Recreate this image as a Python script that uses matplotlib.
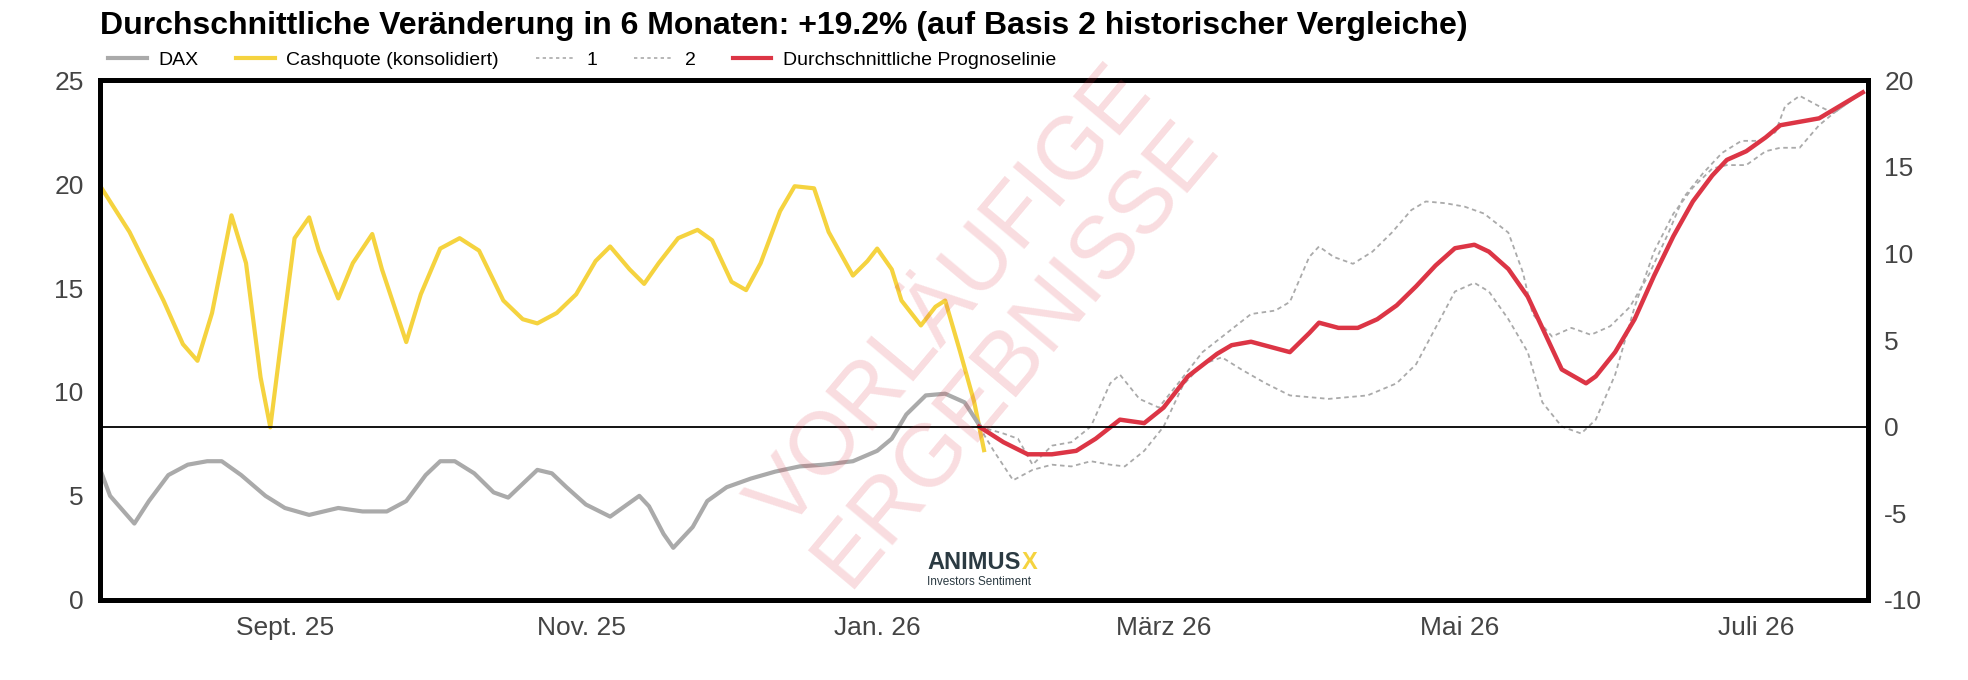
import matplotlib
matplotlib.use("Agg")
import matplotlib.pyplot as plt
import numpy as np
import datetime as dt

plt.rcParams['font.family'] = ['Liberation Sans', 'DejaVu Sans']
plt.rcParams['axes.unicode_minus'] = False

start = dt.date(2025, 7, 25)
end = dt.date(2026, 7, 24)

# Cashquote (linke Achse)
cash_days = [0, 6.5, 13, 17, 20, 23, 27, 30, 33, 35, 37, 40, 43, 45, 49, 52, 56, 58, 63, 66,
             70, 74, 78, 83, 87, 90, 94, 98, 102, 105, 109, 112, 115, 119, 123, 126, 130, 133,
             136, 140, 143, 147, 150, 155, 158, 160, 163, 165, 169, 172, 174, 177, 180, 182]
cash_vals = [19.9, 17.7, 14.4, 12.3, 11.5, 13.8, 18.5, 16.2, 10.7, 8.3, 12.0, 17.4, 18.4, 16.8,
             14.5, 16.2, 17.6, 15.9, 12.4, 14.7, 16.9, 17.4, 16.8, 14.4, 13.5, 13.3, 13.8, 14.7,
             16.3, 17.0, 15.9, 15.2, 16.2, 17.4, 17.8, 17.3, 15.3, 14.9, 16.2, 18.7, 19.9, 19.8,
             17.7, 15.6, 16.3, 16.9, 15.9, 14.4, 13.2, 14.1, 14.4, 12.0, 9.5, 7.2]

# DAX (rechte Achse)
dax_days = [0, 2.6, 7, 10.3, 14.2, 18, 22, 25.8, 29.7, 34.9, 38.8, 43.4, 49.1, 54.3, 59.4, 63.3,
            67.2, 70.3, 73.6, 77.5, 81.4, 84, 87.3, 90.4, 93, 96.9, 100.8, 105.4, 108.5, 111.1,
            113.7, 116.3, 118.9, 122, 125.3, 129.2, 134.4, 139.5, 144.7, 149.9, 155, 160.2,
            163.3, 166.7, 170.5, 174.4, 178.3, 181.7]
dax_vals = [-2.5, -4.0, -5.6, -4.3, -2.8, -2.2, -2.0, -2.0, -2.8, -4.0, -4.7, -5.1, -4.7, -4.9,
            -4.9, -4.3, -2.8, -2.0, -2.0, -2.7, -3.8, -4.1, -3.3, -2.5, -2.7, -3.5, -4.5, -5.2,
            -4.6, -4.0, -4.6, -6.2, -7.0, -5.8, -4.3, -3.5, -3.0, -2.6, -2.3, -2.2, -2.0, -1.4,
            -0.7, 0.7, 1.8, 1.9, 1.4, 0.1]

# Durchschnittliche Prognoselinie
avg_days = [181.7, 186, 191.2, 196.4, 201.6, 205.4, 210.6, 215.8, 219.6, 224.8, 230, 233.9,
            237.7, 241.6, 245.5, 249.4, 251.9, 255.8, 259.7, 263.6, 267.4, 271.3, 275.2, 279.1,
            283, 286.8, 290.7, 294.6, 298.4, 301.8, 306.2, 308.8, 312.7, 316.5, 320.4, 324.3,
            328.2, 332, 335.9, 339.8, 343.7, 346.3, 350.1, 354, 357.9, 363.8]
avg_vals = [0, -0.9, -1.6, -1.6, -1.4, -0.7, 0.4, 0.2, 1.1, 2.9, 4.2, 4.7, 4.9, 4.6, 4.3, 5.4,
            6.0, 5.7, 5.7, 6.2, 7.0, 8.1, 9.3, 10.3, 10.5, 10.1, 9.1, 7.5, 5.1, 3.3, 2.5, 2.9,
            4.3, 6.2, 8.7, 11.0, 13.0, 14.5, 15.4, 15.9, 16.7, 17.4, 17.6, 17.8, 18.3, 19.3]

# Vergleich 1
c1_days = [181.7, 186, 189.1, 192.5, 196.4, 200.3, 204.1, 208, 210.6, 214.5, 218.3, 222.2,
           227.4, 232.6, 237.7, 242.9, 245.5, 249.4, 251.9, 254.5, 258.4, 262.3, 266.1, 270,
           273.9, 277.8, 281.7, 285.5, 290.7, 293.3, 295.9, 299.7, 303.6, 307.5, 311.4, 315.2,
           319.1, 323, 326.9, 330.7, 334.6, 338.5, 342.4, 345, 347.6, 350.1, 354, 357.9, 363.8]
c1_vals = [0, -0.4, -0.7, -2.2, -1.1, -0.9, 0, 2.5, 3.0, 1.6, 1.1, 2.5, 4.3, 5.4, 6.5, 6.7, 7.2,
           9.8, 10.4, 9.8, 9.4, 10.1, 11.2, 12.5, 13.0, 12.9, 12.7, 12.3, 11.2, 8.9, 6.5, 5.2,
           5.7, 5.3, 5.8, 6.9, 8.8, 11.2, 13.2, 14.6, 15.8, 16.5, 16.5, 17.0, 18.5, 19.1, 18.5,
           18.1, 19.3]

# Vergleich 2
c2_days = [181.7, 184.8, 188.6, 192.5, 196.4, 200.3, 204.1, 208, 211.9, 215.8, 219.6, 223.5,
           227.4, 231.3, 235.1, 240.3, 245.5, 253.2, 261, 267.4, 271.3, 275.2, 279.1, 283,
           286.8, 290.7, 294.1, 297.7, 301.8, 305.4, 308.8, 312.7, 316.5, 320.4, 324.3, 328.2,
           332, 335.9, 339.8, 343.7, 346.3, 350.1, 354, 357.9, 363.8]
c2_vals = [0, -1.4, -3.1, -2.5, -2.2, -2.3, -2.0, -2.2, -2.3, -1.4, 0, 2.4, 3.6, 4.0, 3.3, 2.5,
           1.8, 1.6, 1.8, 2.5, 3.6, 5.7, 7.8, 8.3, 7.8, 6.2, 4.3, 1.4, 0, -0.4, 0.4, 3.0, 6.9,
           10.1, 12.3, 13.8, 14.9, 15.1, 15.1, 15.9, 16.1, 16.1, 17.4, 18.1, 19.3]


def to_dates(days):
    return [start + dt.timedelta(days=d) for d in days]


fig = plt.figure(figsize=(19.68, 6.8), dpi=100)
ax = fig.add_axes([0.051, 0.118, 0.898, 0.764])
ax2 = ax.twinx()

dash = (0, (2.5, 2))
ax.plot(to_dates(cash_days), cash_vals, color="#f5d33f", lw=3, solid_joinstyle="round")
ax2.plot(to_dates(dax_days), dax_vals, color="#aaaaaa", lw=3, solid_joinstyle="round")
ax2.plot(to_dates(c1_days), c1_vals, color="#aaaaaa", lw=1.3, ls=dash)
ax2.plot(to_dates(c2_days), c2_vals, color="#aaaaaa", lw=1.3, ls=dash)
ax2.plot(to_dates(avg_days), avg_vals, color="#dc3545", lw=3.2, solid_joinstyle="round")
ax2.axhline(0, color="black", lw=1.3)

ax.set_ylim(0, 25)
ax2.set_ylim(-10, 20)
ax.set_yticks(range(0, 26, 5))
ax2.set_yticks(range(-10, 21, 5))
ax.set_xlim(start, end)
ticks = [dt.date(2025, 9, 1), dt.date(2025, 11, 1), dt.date(2026, 1, 1),
         dt.date(2026, 3, 1), dt.date(2026, 5, 1), dt.date(2026, 7, 1)]
tick_labels = ["Sept. 25", "Nov. 25", "Jan. 26", "März 26", "Mai 26", "Juli 26"]
ax.set_xticks(ticks)
ax.set_xticklabels(tick_labels)

for a in (ax, ax2):
    a.tick_params(length=0, labelsize=19, colors="#444444", pad=12)
    for s in a.spines.values():
        s.set_linewidth(3.5)
        s.set_color("black")

fig.text(0.5, 0.52, "VORLÄUFIGE\nERGEBNISSE", rotation=50, ha="center", va="center",
         fontsize=64, color="#dc3545", alpha=0.17, linespacing=1.0)
fig.text(0.471, 0.163, "ANIMUS", fontsize=17, fontweight="bold", color="#2b3a42")
fig.text(0.471, 0.14, "Investors Sentiment", fontsize=8.5, color="#2b3a42")
fig.text(0.519, 0.163, "X", fontsize=17, fontweight="bold", color="#f5d33f")

fig.text(0.051, 0.94, "Durchschnittliche Veränderung in 6 Monaten: +19.2% (auf Basis 2 historischer Vergleiche)",
         fontsize=23, fontweight="bold", va="bottom")

handles = [
    plt.Line2D([], [], color="#aaaaaa", lw=3),
    plt.Line2D([], [], color="#f5d33f", lw=3),
    plt.Line2D([], [], color="#aaaaaa", lw=1.2, ls=(0, (2, 2))),
    plt.Line2D([], [], color="#aaaaaa", lw=1.2, ls=(0, (2, 2))),
    plt.Line2D([], [], color="#dc3545", lw=3),
]
fig.legend(handles, ["DAX", "Cashquote (konsolidiert)", "1", "2", "Durchschnittliche Prognoselinie"],
           loc="center left", bbox_to_anchor=(0.046, 0.912), ncol=5, frameon=False,
           fontsize=14, handlelength=2.0, columnspacing=1.9, handletextpad=0.6)

fig.savefig("out.png", dpi=100)
